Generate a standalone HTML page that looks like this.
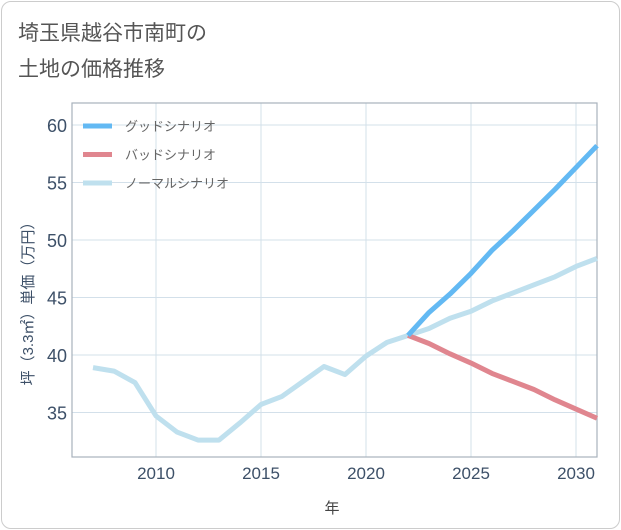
<!DOCTYPE html>
<html><head><meta charset="utf-8"><style>
body{margin:0;background:#fff;font-family:"Liberation Sans","Noto Sans CJK JP",sans-serif;}
#card{position:absolute;left:1px;top:1px;width:617px;height:526px;border:1px solid #ccc;border-radius:10px;background:#fff;}
</style></head><body>
<div id="card"></div>
<svg id="chart" width="621" height="530" style="position:absolute;left:0;top:0">
<text x="18" y="40" font-size="21" fill="#555">埼玉県越谷市南町の</text>
<text x="18" y="76" font-size="21" fill="#555">土地の価格推移</text>
<g id="grid"></g><g id="series"></g><g id="legend"></g>
<text x="332" y="513" font-size="15" fill="#444" text-anchor="middle">年</text>
<text transform="translate(33,300) rotate(-90)" font-size="15" fill="#3d5068" text-anchor="middle">坪（3.3㎡）単価（万円）</text>
</svg>
<script>
const years=[2007,2008,2009,2010,2011,2012,2013,2014,2015,2016,2017,2018,2019,2020,2021,2022,2023,2024,2025,2026,2027,2028,2029,2030,2031];
const normalVals=[38.9,38.6,37.6,34.7,33.3,32.6,32.6,34.1,35.7,36.4,37.7,39.0,38.3,39.9,41.1,41.7,42.3,43.2,43.8,44.7,45.4,46.1,46.8,47.7,48.4];
const futureYears=[2022,2023,2024,2025,2026,2027,2028,2029,2030,2031];
const goodVals=[41.7,43.7,45.3,47.1,49.1,50.8,52.6,54.4,56.3,58.2];
const badVals=[41.7,41.0,40.1,39.3,38.4,37.7,37.0,36.1,35.3,34.5];
const xTicks=[2010,2015,2020,2025,2030];
const yTicks=[35,40,45,50,55,60];
const seriesNames=["グッドシナリオ","バッドシナリオ","ノーマルシナリオ"];
const L=72,R=597,T=103,B=457;
const X=y=>156+(y-2010)*(576-156)/20;
const Y=v=>355-(v-40)*(355-125)/20;
const ns="http://www.w3.org/2000/svg";
function mk(tag,attrs,parent,text){const e=document.createElementNS(ns,tag);for(const k in attrs)e.setAttribute(k,attrs[k]);if(text!==undefined)e.textContent=text;parent.appendChild(e);return e;}
const grid=document.getElementById('grid');
xTicks.forEach(t=>{const l=mk('line',{x1:X(t),x2:X(t),y1:T,y2:B,stroke:'#d3e0ea'},grid);

const tx=mk('text',{x:X(t),y:479,'font-size':17,fill:'#3d5068','text-anchor':'middle'},grid,t);
});
yTicks.forEach(t=>{const l=mk('line',{x1:L,x2:R,y1:Y(t),y2:Y(t),stroke:'#d3e0ea'},grid);

const tx=mk('text',{x:67,y:Y(t)+7,'font-size':18,fill:'#3d5068','text-anchor':'end'},grid,t);
});
const fr=mk('rect',{x:L,y:T,width:R-L,height:B-T,fill:'none',stroke:'#a8b2bc','stroke-width':1.2},grid);

const s=document.getElementById('series');
function line(xs,vs,color,name){const p=mk('polyline',{points:xs.map((y,i)=>X(y)+','+Y(vs[i])).join(' '),fill:'none',stroke:color,'stroke-width':5,'stroke-linejoin':'round'},s);
}
line(years,normalVals,'#bfe0ee','normal-scenario-line');
line(futureYears,badVals,'#e0868f','bad-scenario-line');
line(futureYears,goodVals,'#63b9f3','good-scenario-line');
const colors=['#63b9f3','#e0868f','#bfe0ee'];
const lg=document.getElementById('legend');
seriesNames.forEach((n,i)=>{const g=mk('g',{},lg);
mk('line',{x1:83,x2:112,y1:126+i*28.5,y2:126+i*28.5,stroke:colors[i],'stroke-width':5},g);
mk('text',{x:125,y:131+i*28.5,'font-size':13,fill:'#666'},g,n);});
</script>
</body></html>
